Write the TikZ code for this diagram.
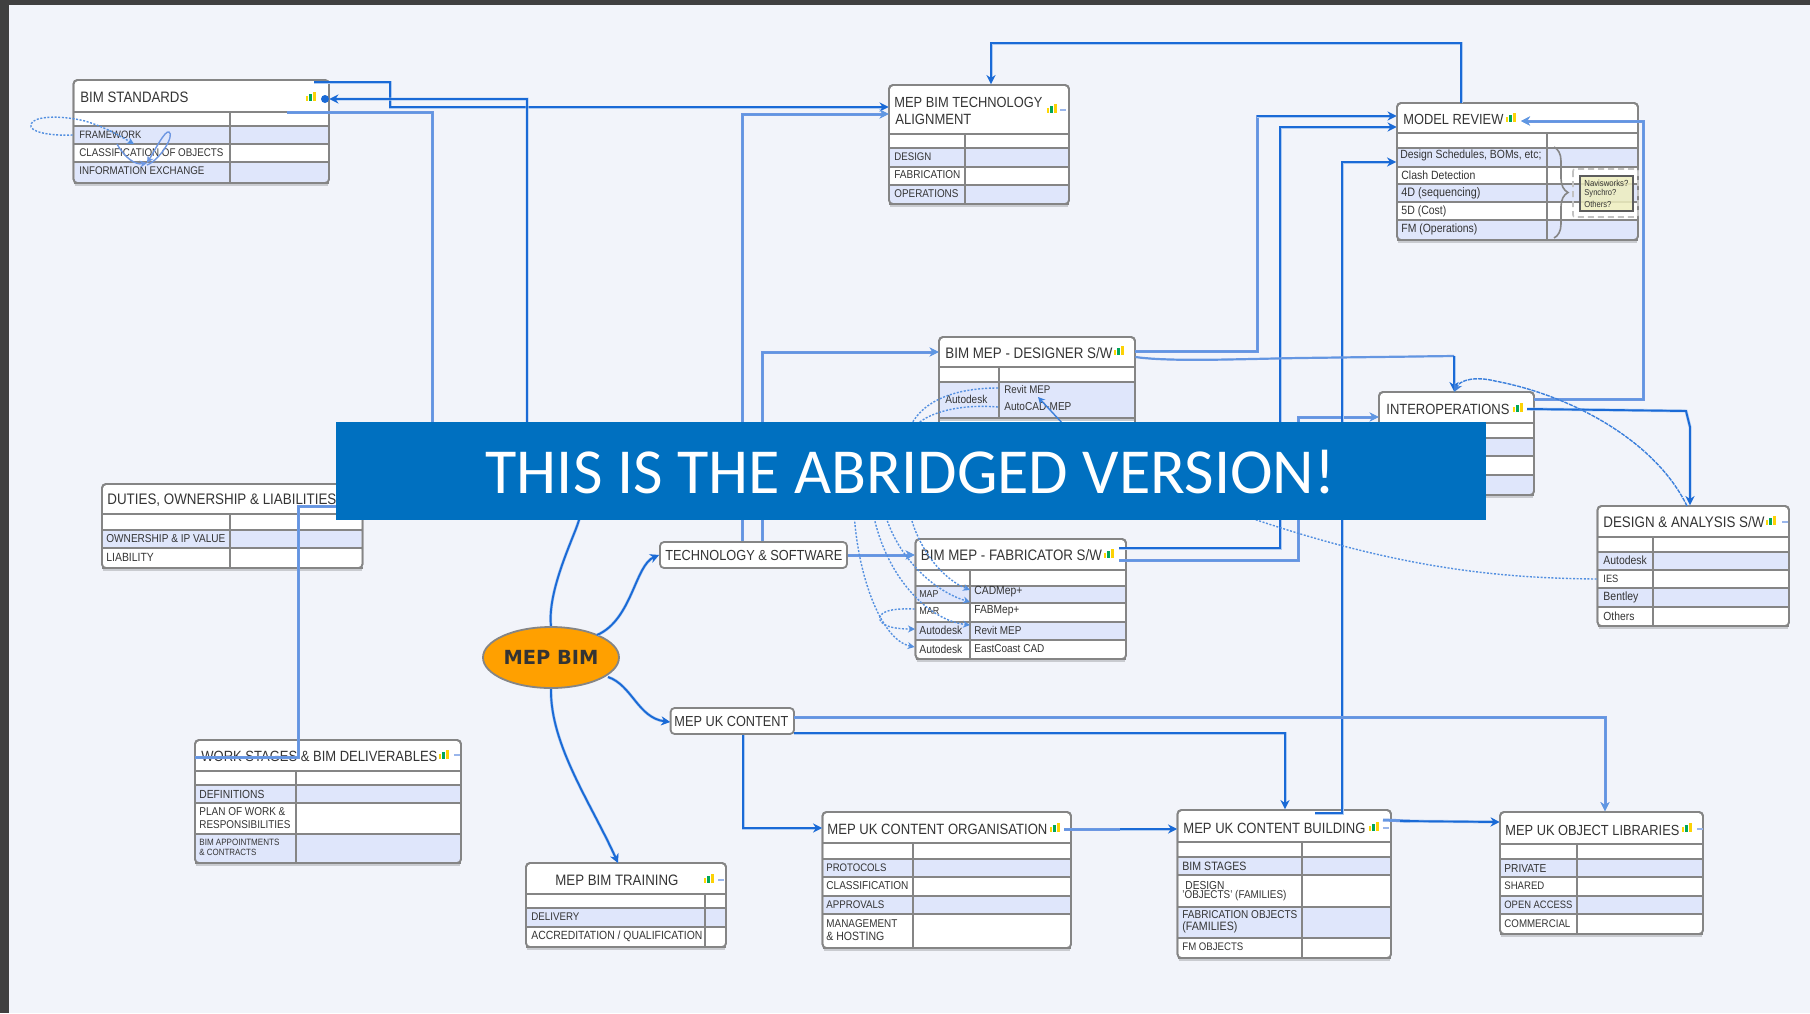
\documentclass[tikz,border=0pt]{standalone}
\usepackage{fontspec}
\usepackage{graphicx}
\setmainfont{Liberation Sans}
\newfontfamily\bannerfont{Carlito}
\newfontfamily\hubfont{DejaVu Sans}
\usetikzlibrary{arrows.meta,shapes.geometric,decorations.pathreplacing}
\definecolor{pagebg}{HTML}{F2F4FA}
\definecolor{barcol}{HTML}{404040}
\definecolor{rowblue}{HTML}{DFE6FB}
\definecolor{framecol}{HTML}{858585}
\definecolor{halocol}{HTML}{C9CBD0}
\definecolor{inkcol}{HTML}{343434}
\definecolor{darkline}{HTML}{1A6AD6}
\definecolor{lightline}{HTML}{6E97E2}
\definecolor{bannercol}{HTML}{0070C0}
\definecolor{hubcol}{HTML}{FFA000}
\definecolor{notecol}{HTML}{EEEEBE}
\tikzset{
  frameshape/.style={draw=framecol,line width=0.9pt,rounded corners=2pt,fill=white,inner sep=0pt},
  headshape/.style={inner sep=0pt},
  lab/.style={anchor=west,inner sep=0pt,text=inkcol,font=\fontsize{10}{12}\selectfont},
  sep/.style={draw=framecol,line width=0.6pt},
  halo/.style={draw=halocol,line width=0.9pt},
  tiptip/.style={-{Stealth[length=4.5pt,width=4.5pt]}},
  smalltip/.style={-{Stealth[length=3.5pt,width=3.5pt]}},
  conndark/.style={draw=darkline,line width=0.95pt,preaction={draw=darkline!35,line width=1.5pt}},
  connlight/.style={draw=lightline,line width=1.5pt,postaction={draw=darkline!70,line width=0.5pt}},
  connthin/.style={draw=darkline!85,line width=0.7pt},
  connflow/.style={draw=darkline!75,line width=0.7pt,dash pattern=on 1pt off 0.8pt},
}
\newcounter{autolab}
\newcommand{\fitw}[2]{\scalebox{1}[1.14]{\resizebox{\dimexpr #1pt/2\relax}{!}{#2}}}
\newcommand{\lbl}[4]{\stepcounter{autolab}\node[lab] (lb\theautolab) at (#1,#2) {\fitw{#3}{#4}};}
% name x1 y1 x2 y2 headerbottom
\newcommand{\tframe}[6]{%
  \node[frameshape,minimum width={(#4-#2)*0.5pt},minimum height={(#5-#3)*0.5pt}] (#1) at ({(#2+#4)/2},{(#3+#5)/2}) {};
  \node[headshape,minimum width={(#4-#2)*0.5pt},minimum height={(#6-#3)*0.5pt}] (#1H) at ({(#2+#4)/2},{(#3+#6)/2}) {};
}
% x1 col x2 ytop ybot fill
\newcommand{\trow}[6]{%
  \fill[#6,rounded corners=1pt] (#1+1,#4) rectangle (#3-1,#5);
  \draw[halo] (#1+1,#5+2) -- (#3-1,#5+2);
  \draw[sep] (#1,#4) -- (#3,#4);
  \draw[sep] (#1,#5) -- (#3,#5);
  \draw[sep] (#2,#4) -- (#2,#5);
}
\newcommand{\reframe}[4]{\draw[draw=framecol,line width=0.9pt,rounded corners=2pt] (#1,#2) rectangle (#3,#4);}
\newcommand{\ticon}[2]{%
  \fill[yellow!75!orange] (#1-5,#2-2) rectangle (#1-3,#2+3);
  \fill[teal!70!green] (#1-2,#2-4) rectangle (#1+1,#2+3);
  \fill[yellow!70!orange] (#1+2,#2-6) rectangle (#1+5,#2+3);
}
\newcommand{\ttick}[2]{\draw[lightline!70,line width=0.8pt] (#1-3,#2) -- (#1+3,#2);}
\begin{document}
\begin{tikzpicture}[x=0.5pt,y=-0.5pt]
\useasboundingbox (0,0) rectangle (1810,1013);
\fill[pagebg] (0,0) rectangle (1810,1013);
\fill[barcol] (0,0) rectangle (1810,5);
\fill[barcol] (0,0) rectangle (9,1013);

% ---------- BIM STANDARDS
\tframe{standards}{73.5}{80}{329}{183}{112}
\trow{73.5}{230}{329}{112}{126}{white}
\trow{73.5}{230}{329}{126}{144}{rowblue}
\trow{73.5}{230}{329}{144}{162}{white}
\trow{73.5}{230}{329}{162}{183}{rowblue}
\reframe{73.5}{80}{329}{183}
\lbl{80}{97}{108}{BIM STANDARDS}
\lbl{79}{135}{62}{FRAMEWORK}
\lbl{79}{153}{144}{CLASSIFICATION OF OBJECTS}
\lbl{79}{171}{125}{INFORMATION EXCHANGE}
\ticon{311}{98}

% ---------- TECHNOLOGY ALIGNMENT
\tframe{tech}{889}{85}{1069}{204}{134}
\trow{889}{965}{1069}{134}{148}{white}
\trow{889}{965}{1069}{148}{167}{rowblue}
\trow{889}{965}{1069}{167}{185}{white}
\trow{889}{965}{1069}{185}{204}{rowblue}
\reframe{889}{85}{1069}{204}
\lbl{894}{102}{148}{MEP BIM TECHNOLOGY}
\lbl{895}{119}{76}{ALIGNMENT}
\lbl{894}{157}{37}{DESIGN}
\lbl{894}{175}{66}{FABRICATION}
\lbl{894}{194}{64}{OPERATIONS}
\ticon{1052}{110}\ttick{1063}{110}

% ---------- MODEL REVIEW
\tframe{model}{1397}{103}{1638}{240}{133}
\trow{1397}{1547}{1638}{133}{148}{white}
\trow{1397}{1547}{1638}{148}{167}{rowblue}
\trow{1397}{1547}{1638}{167}{184}{white}
\trow{1397}{1547}{1638}{184}{202}{rowblue}
\trow{1397}{1547}{1638}{202}{220}{white}
\trow{1397}{1547}{1638}{220}{240}{rowblue}
\reframe{1397}{103}{1638}{240}
\lbl{1403}{119}{100}{MODEL REVIEW}
\lbl{1400}{155}{141}{Design Schedules, BOMs, etc;}
\lbl{1401}{175}{74}{Clash Detection}
\lbl{1401}{193}{79}{4D (sequencing)}
\lbl{1401}{211}{45}{5D (Cost)}
\lbl{1401}{229}{76}{FM (Operations)}
\ticon{1511}{119}
\draw[draw=framecol,line width=0.8pt,decorate,decoration={brace,amplitude=7pt}] (1554,147) -- (1554,238);
\draw[draw=framecol!50,line width=0.8pt,densely dashed,rounded corners=1pt] (1573,169) rectangle (1638,217);
\draw[draw=framecol!70!black,line width=1.1pt,fill=notecol,fill opacity=0.85] (1580,176) rectangle (1633,211);
\lbl{1584}{183}{44}{Navisworks?}
\lbl{1584}{193}{32}{Synchro?}
\lbl{1584}{204}{27}{Others?}

% ---------- DESIGNER S/W
\tframe{designer}{939}{337}{1135}{500}{367}
\trow{939}{999}{1135}{367}{382}{white}
\trow{939}{999}{1135}{382}{418}{rowblue}
\reframe{939}{337}{1135}{500}
\lbl{945}{353}{167}{BIM MEP - DESIGNER S/W}
\lbl{945}{399}{42}{Autodesk}
\lbl{1004}{390}{46}{Revit MEP}
\lbl{1004}{407}{67}{AutoCAD-MEP}
\ticon{1119}{352}

% ---------- INTEROPERATIONS
\tframe{interop}{1379}{392}{1534}{495}{423}
\trow{1379}{1440}{1534}{423}{438}{white}
\trow{1379}{1440}{1534}{438}{456}{rowblue}
\trow{1379}{1440}{1534}{456}{475}{white}
\trow{1379}{1440}{1534}{475}{495}{rowblue}
\reframe{1379}{392}{1534}{495}
\lbl{1386}{409}{123}{INTEROPERATIONS}
\ticon{1518}{409}

% ---------- DESIGN & ANALYSIS
\tframe{analysis}{1597.5}{506}{1789}{626}{537}
\trow{1597.5}{1653}{1789}{537}{552}{white}
\trow{1597.5}{1653}{1789}{552}{570}{rowblue}
\trow{1597.5}{1653}{1789}{570}{588}{white}
\trow{1597.5}{1653}{1789}{588}{607}{rowblue}
\trow{1597.5}{1653}{1789}{607}{626}{white}
\reframe{1597.5}{506}{1789}{626}
\lbl{1603}{522}{161}{DESIGN \& ANALYSIS S/W}
\lbl{1603}{560}{43.5}{Autodesk}
\lbl{1603}{579}{15}{IES}
\lbl{1603}{597}{35}{Bentley}
\lbl{1603}{616}{31}{Others}
\ticon{1771}{522}\ttick{1785}{522}

% ---------- TECHNOLOGY & SOFTWARE, UK CONTENT
\tframe{tsw}{660}{542}{847}{568}{568}
\lbl{665}{555}{177}{TECHNOLOGY \& SOFTWARE}
\tframe{ukc}{670.6}{708}{794}{734}{734}
\lbl{674}{721}{114}{MEP UK CONTENT}

% ---------- FABRICATOR
\tframe{fab}{915.5}{539}{1126}{659}{570}
\trow{915.5}{970}{1126}{570}{586}{white}
\trow{915.5}{970}{1126}{586}{603}{rowblue}
\trow{915.5}{970}{1126}{603}{622}{white}
\trow{915.5}{970}{1126}{622}{640}{rowblue}
\trow{915.5}{970}{1126}{640}{659}{white}
\reframe{915.5}{539}{1126}{659}
\lbl{920.5}{555}{181}{BIM MEP - FABRICATOR S/W}
\lbl{919}{594}{19}{MAP}
\lbl{974}{592}{48}{CADMep+}
\lbl{919}{611}{20}{MAR}
\lbl{974}{611}{45}{FABMep+}
\lbl{919}{630}{43}{Autodesk}
\lbl{974}{630}{47}{Revit MEP}
\lbl{919}{649}{43}{Autodesk}
\lbl{974}{649}{70}{EastCoast CAD}
\ticon{1109}{555}

% ---------- DUTIES
\tframe{duties}{102}{484}{362.5}{568}{514}
\trow{102}{230}{362.5}{514}{530}{white}
\trow{102}{230}{362.5}{530}{548}{rowblue}
\trow{102}{230}{362.5}{548}{568}{white}
\reframe{102}{484}{362.5}{568}
\lbl{107}{500}{229}{DUTIES, OWNERSHIP \& LIABILITIES}
\lbl{106}{539}{119}{OWNERSHIP \& IP VALUE}
\lbl{106}{557}{47.5}{LIABILITY}

% ---------- WORK STAGES
\tframe{work}{195}{740}{461}{863}{771}
\trow{195}{296}{461}{771}{785}{white}
\trow{195}{296}{461}{785}{803}{rowblue}
\trow{195}{296}{461}{803}{834}{white}
\trow{195}{296}{461}{834}{863}{rowblue}
\reframe{195}{740}{461}{863}
\lbl{201}{756}{236}{WORK STAGES \& BIM DELIVERABLES}
\lbl{199}{794}{65}{DEFINITIONS}
\lbl{199}{812}{86}{PLAN OF WORK \&}
\lbl{199}{825}{91}{RESPONSIBILITIES}
\lbl{199}{842}{80}{BIM APPOINTMENTS}
\lbl{199}{852}{57}{\& CONTRACTS}
\ticon{444}{756}\ttick{457}{755}

% ---------- TRAINING
\tframe{train}{526}{863}{726}{947}{894}
\trow{526}{705}{726}{894}{908}{white}
\trow{526}{705}{726}{908}{927}{rowblue}
\trow{526}{705}{726}{927}{947}{white}
\reframe{526}{863}{726}{947}
\lbl{555}{880}{123}{MEP BIM TRAINING}
\lbl{531}{917}{48}{DELIVERY}
\lbl{531}{936}{171}{ACCREDITATION / QUALIFICATION}
\ticon{709}{880}\ttick{721}{880}

% ---------- ORGANISATION
\tframe{org}{822.5}{812}{1071}{948}{843}
\trow{822.5}{913}{1071}{843}{859}{white}
\trow{822.5}{913}{1071}{859}{877}{rowblue}
\trow{822.5}{913}{1071}{877}{896}{white}
\trow{822.5}{913}{1071}{896}{914}{rowblue}
\trow{822.5}{913}{1071}{914}{948}{white}
\reframe{822.5}{812}{1071}{948}
\lbl{827}{829}{220}{MEP UK CONTENT ORGANISATION}
\lbl{826}{868}{60}{PROTOCOLS}
\lbl{826}{886}{82}{CLASSIFICATION}
\lbl{826}{905}{58}{APPROVALS}
\lbl{826}{924}{71}{MANAGEMENT}
\lbl{826}{936}{58}{\& HOSTING}
\ticon{1055}{829}

% ---------- CONTENT BUILDING
\tframe{bld}{1177.5}{810}{1391}{958}{842}
\trow{1177.5}{1302}{1391}{842}{857}{white}
\trow{1177.5}{1302}{1391}{857}{875}{rowblue}
\trow{1177.5}{1302}{1391}{875}{907}{white}
\trow{1177.5}{1302}{1391}{907}{938}{rowblue}
\trow{1177.5}{1302}{1391}{938}{958}{white}
\reframe{1177.5}{810}{1391}{958}
\lbl{1183}{828}{182}{MEP UK CONTENT BUILDING}
\lbl{1182}{866}{64}{BIM STAGES}
\lbl{1185}{885}{39}{DESIGN}
\lbl{1182}{896}{104}{'OBJECTS' (FAMILIES)}
\lbl{1182}{915}{115}{FABRICATION OBJECTS}
\lbl{1182}{927}{55}{(FAMILIES)}
\lbl{1182}{947}{61}{FM OBJECTS}
\ticon{1374}{828}\ttick{1386}{828}

% ---------- OBJECT LIBRARIES
\tframe{lib}{1500}{812}{1703}{934}{844}
\trow{1500}{1577}{1703}{844}{859}{white}
\trow{1500}{1577}{1703}{859}{877}{rowblue}
\trow{1500}{1577}{1703}{877}{896}{white}
\trow{1500}{1577}{1703}{896}{914}{rowblue}
\trow{1500}{1577}{1703}{914}{934}{white}
\reframe{1500}{812}{1703}{934}
\lbl{1505}{830}{174}{MEP UK OBJECT LIBRARIES}
\lbl{1504}{868}{42}{PRIVATE}
\lbl{1504}{886}{40}{SHARED}
\lbl{1504}{905}{68}{OPEN ACCESS}
\lbl{1504}{924}{66}{COMMERCIAL}
\ticon{1687}{829}\ttick{1700}{829}

% ---------- HUB
\node[ellipse,draw=framecol,line width=0.9pt,fill=hubcol,inner sep=0pt,minimum width=68pt,minimum height=30.5pt,text=inkcol] (hub) at (551,657.5) {\resizebox{47.5pt}{!}{\hubfont\bfseries MEP BIM}};

% ---------- CONNECTORS
\coordinate (stdA) at (314,82);
\coordinate (stdB) at (287,112);
\coordinate (bldS) at (1315,813);
\coordinate (fabA) at (1119,548);
\coordinate (fabB) at (1119,560);
\coordinate (hiddenA) at (600,470);
\coordinate (hiddenB) at (1200,500);
\draw[conndark,tiptip] (stdA) -- (390,82) -- (390,107) -- (techH.west |- 0,107);
\draw[connlight,tiptip] (tsw.north -| 742,0) -- (742,114) -- (techH.west |- 0,114);
\draw[connlight,tiptip] (tsw.north -| 762,0) -- (762,352) -- (designerH.west |- 0,352);
\draw[connlight] (stdB) -- (432,112) -- (432,506) -- (298,506) -- (298,757) -- (workH.west |- 0,757);
\draw[conndark,tiptip] (hub.north) .. controls (547,590) and (575,535) .. (579,520) -- (hiddenA) -- (527,440) -- (527,99) -- (standardsH.east |- 0,99);
\fill[darkline] (325,99) circle (4);
\draw[conndark,tiptip] (597,635) .. controls (632,620) and (635,565) .. (tsw.west);
\draw[conndark,tiptip] (608,677) .. controls (632,685) and (638,718) .. (ukcH.west |- 0,722);
\draw[conndark,tiptip] (hub.south) .. controls (550,745) and (592,805) .. (618,863);
\draw[connlight,tiptip] (tsw.east) -- (fab.west |- 0,555);
\draw[connlight] (designerH.east |- 0,351) -- (1257,351) -- (1257,116) -- (1390,116);
\draw[conndark,tiptip] (1257,116) -- (modelH.west |- 0,116);
\draw[conndark,tiptip] (fabA) -- (1280,548) -- (1280,127) -- (modelH.west |- 0,127);
\draw[connlight,tiptip] (fabB) -- (1298,560) -- (1298,417) -- (interopH.west |- 0,417);
\draw[conndark,tiptip] (bldS) -- (1342,813) -- (1342,162) -- (model.west |- 0,162);
\draw[conndark,tiptip] (modelH.north -| 1461,0) -- (1461,43) -- (991,43) -- (tech.north -| 991,0);
\draw[connlight,tiptip] (interopH.east |- 0,399) -- (1643,399) -- (1643,121) -- (1521,121);
\draw[connlight,line width=1.1pt] (designerH.east |- 0,357) .. controls (1170,362) and (1240,359) .. (1300,358) -- (1454,356);
\draw[conndark,tiptip] (1454,356) -- (interop.north -| 1454,0);
\draw[conndark,tiptip] (1527,409) -- (1610,410) -- (1686,411) -- (1690,427) -- (analysis.north -| 1690,0);
\draw[connlight,tiptip] (ukcH.east |- 0,717) -- (1605,717) -- (lib.north -| 1605,0);
\draw[conndark,tiptip] (ukcH.east |- 0,733) -- (1285,733) -- (bld.north -| 1285,0);
\draw[conndark,tiptip] (ukc.south -| 743,0) -- (743,828) -- (orgH.west |- 0,828);
\draw[connlight] (1064,829) -- (1140,829);
\draw[conndark,tiptip] (1120,829) -- (bldH.west |- 0,829);
\draw[connlight] (1383,820) -- (1410,821);
\draw[conndark,tiptip] (1400,821) -- (libH.west |- 0,822);
% curved references
\draw[connflow] (analysis.west |- 0,579) .. controls (1490,578) and (1380,567) .. (hiddenB);
\draw[connthin,dash pattern=on 2pt off 0.5pt,tiptip] (1687,506) .. controls (1655,440) and (1570,395) .. (1495,381) .. controls (1475,376) and (1460,380) .. (1454,392);
\draw[connflow,smalltip] (907,500) .. controls (915,550) and (945,580) .. (970,590);
\draw[connflow,smalltip] (882,500) .. controls (890,550) and (930,590) .. (970,602);
\draw[connflow,smalltip] (871,500) .. controls (880,570) and (925,620) .. (970,625);
\draw[connflow,smalltip] (853.5,500) .. controls (855,570) and (880,640) .. (fab.west |- 0,647);
\draw[connflow,smalltip] (fab.west |- 0,609) .. controls (890,608) and (878,612) .. (880,620) .. controls (884,628) and (900,629) .. (915,629);
\draw[connflow] (998,388) .. controls (960,388) and (925,398) .. (911,425);
\draw[connflow] (998,407) .. controls (960,404) and (930,412) .. (916,425);
\draw[connthin,smalltip] (1064,425) -- (1038,397);
\draw[connflow,smalltip] (standards.west |- 0,135) .. controls (50,136) and (28,132) .. (31,124) .. controls (34,116) and (60,115) .. (85,121) .. controls (105,127) and (120,136) .. (134,144);
\draw[connthin,draw=lightline,smalltip] (117,144) .. controls (125,158) and (135,165) .. (147,163);
\draw[connthin,draw=lightline,smalltip] (147,165) .. controls (160,160) and (175,135) .. (169,132) .. controls (165,130) and (155,150) .. (147,163);

% ---------- BANNER
\node[fill=bannercol,inner sep=0pt,minimum width=575pt,minimum height=49pt] (banner) at (911,471) {};
\node[inner sep=0pt,text=white,font=\bannerfont\fontsize{32.1}{38}\selectfont] (bannertext) at (910.5,472) {THIS IS THE ABRIDGED VERSION!};
\end{tikzpicture}
\end{document}
